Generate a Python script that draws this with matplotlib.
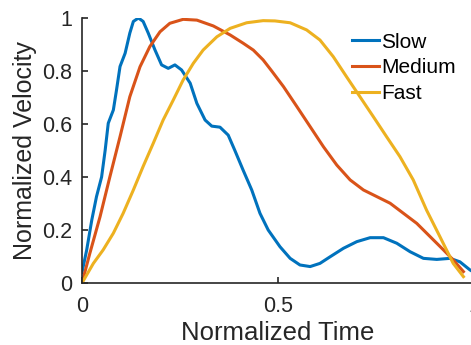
import matplotlib
matplotlib.use('Agg')
import matplotlib.pyplot as plt

plt.rcParams['font.family'] = ['Liberation Sans', 'DejaVu Sans']

# Slow
slow_t = [0.0, 0.012, 0.025, 0.037, 0.05, 0.059, 0.067, 0.08, 0.088, 0.097, 0.11,
          0.122, 0.131, 0.144, 0.156, 0.169, 0.186, 0.203, 0.22, 0.237, 0.254,
          0.276, 0.293, 0.314, 0.331, 0.352, 0.373, 0.39, 0.411, 0.433, 0.454,
          0.475, 0.505, 0.531, 0.556, 0.582, 0.607, 0.633, 0.667, 0.701, 0.735,
          0.769, 0.803, 0.837, 0.871, 0.905, 0.939, 0.964, 0.99, 1.0]
slow_v = [0.04, 0.125, 0.238, 0.326, 0.40, 0.50, 0.603, 0.653, 0.728, 0.817, 0.867,
          0.943, 0.987, 1.0, 0.987, 0.943, 0.88, 0.823, 0.81, 0.823, 0.804,
          0.754, 0.678, 0.615, 0.592, 0.588, 0.558, 0.50, 0.426, 0.351, 0.263,
          0.20, 0.137, 0.093, 0.068, 0.062, 0.074, 0.099, 0.131, 0.156, 0.171,
          0.171, 0.15, 0.118, 0.093, 0.089, 0.093, 0.08, 0.049, 0.04]

# Medium
med_t = [0.0, 0.02, 0.046, 0.071, 0.097, 0.122, 0.148, 0.173, 0.199, 0.224, 0.258,
         0.293, 0.335, 0.378, 0.411, 0.437, 0.462, 0.484, 0.514, 0.548, 0.582,
         0.616, 0.65, 0.684, 0.718, 0.752, 0.786, 0.82, 0.854, 0.888, 0.922,
         0.947, 0.973]
med_v = [0.0, 0.112, 0.25, 0.40, 0.552, 0.703, 0.816, 0.892, 0.948, 0.98, 0.995,
         0.992, 0.97, 0.936, 0.905, 0.879, 0.842, 0.80, 0.741, 0.666, 0.59,
         0.514, 0.445, 0.389, 0.351, 0.326, 0.301, 0.263, 0.225, 0.175, 0.125,
         0.087, 0.043]

# Fast
fast_t = [0.0, 0.029, 0.054, 0.08, 0.105, 0.131, 0.156, 0.182, 0.207, 0.233, 0.258,
          0.284, 0.309, 0.344, 0.378, 0.42, 0.462, 0.492, 0.531, 0.573, 0.607,
          0.641, 0.675, 0.709, 0.743, 0.777, 0.811, 0.845, 0.879, 0.913, 0.947,
          0.973]
fast_v = [0.0, 0.074, 0.125, 0.188, 0.263, 0.351, 0.44, 0.528, 0.615, 0.691, 0.766,
          0.829, 0.879, 0.929, 0.961, 0.982, 0.99, 0.989, 0.982, 0.955, 0.917,
          0.854, 0.778, 0.703, 0.628, 0.552, 0.477, 0.389, 0.275, 0.175, 0.074,
          0.024]

fig = plt.figure(figsize=(4.71, 3.45), dpi=100)
ax = fig.add_axes([82 / 471, 62 / 345, 392 / 471, 265 / 345])

ax.plot(slow_t, slow_v, color='#0072BD', lw=2.2, label='Slow')
ax.plot(med_t, med_v, color='#D95319', lw=2.2, label='Medium')
ax.plot(fast_t, fast_v, color='#EDB120', lw=2.2, label='Fast')

ax.set_xlim(0, 1)
ax.set_ylim(0, 1)
ax.set_xticks([0, 0.5, 1])
ax.set_xticklabels(['0', '0.5', '1'])
ax.set_yticks([0, 0.2, 0.4, 0.6, 0.8, 1])
ax.set_yticklabels(['0', '0.2', '0.4', '0.6', '0.8', '1'])
ax.spines['top'].set_visible(False)
ax.spines['right'].set_visible(False)
for s in ['left', 'bottom']:
    ax.spines[s].set_color('#262626')
    ax.spines[s].set_linewidth(1.2)
ax.tick_params(direction='in', length=4.5, width=1.2, color='#262626',
               labelsize=15.5, labelcolor='#262626')
ax.tick_params(axis='y', pad=7)
ax.tick_params(axis='x', pad=9)

ax.set_xlabel('Normalized Time', fontsize=18.5, color='#262626', labelpad=3)
ax.set_ylabel('Normalized Velocity', fontsize=18, color='#262626', labelpad=4)

ax.legend(loc='upper left', bbox_to_anchor=(0.689, 0.945), frameon=False,
          fontsize=15, handlelength=1.3, handletextpad=0.08, labelspacing=0.32,
          borderpad=0, borderaxespad=0)

fig.savefig('out.png', dpi=100)
